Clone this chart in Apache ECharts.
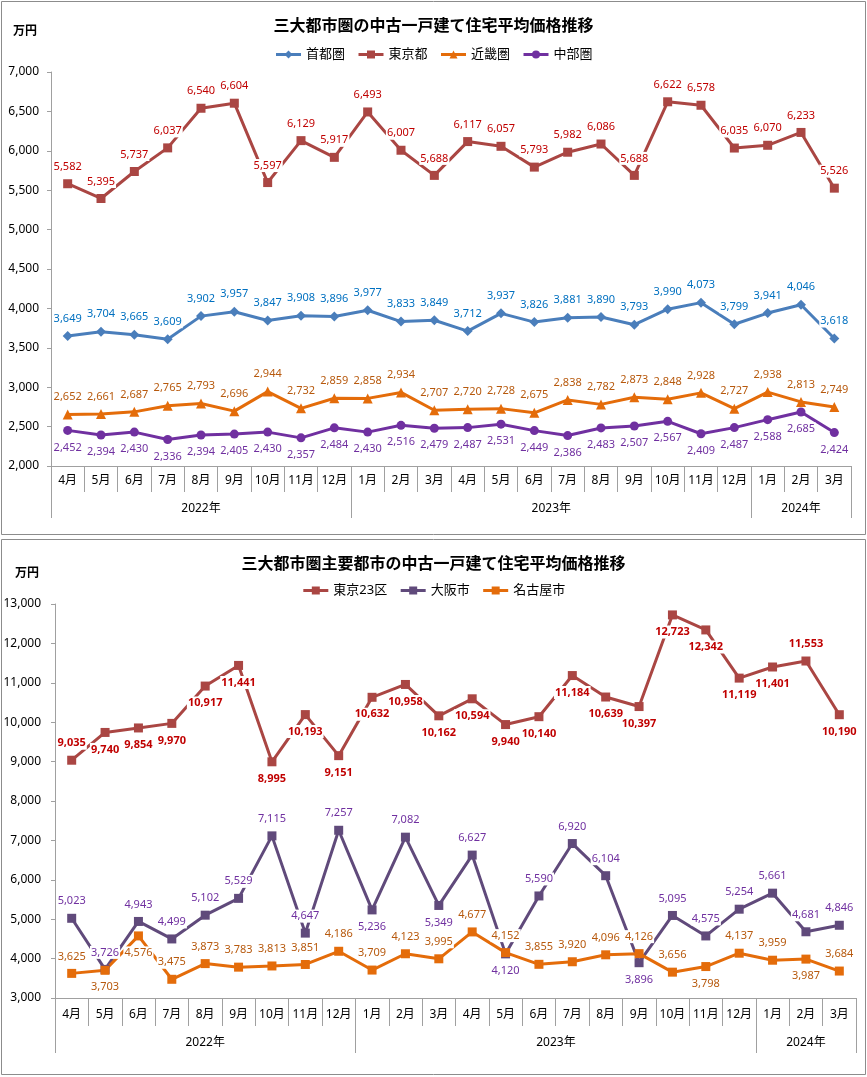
<!DOCTYPE html>
<html><head><meta charset="utf-8">
<script src="https://cdn.jsdelivr.net/npm/echarts@6/dist/echarts.min.js"></script>
<style>html,body{margin:0;padding:0;background:#fff}#c{width:867px;height:1077px}</style>
</head><body><div id="c"></div>
<script>
// ---------- data ----------
const months = ['4月','5月','6月','7月','8月','9月','10月','11月','12月',
  '1月','2月','3月','4月','5月','6月','7月','8月','9月','10月','11月','12月',
  '1月','2月','3月'];
const yearLabels = ['2022年','2023年','2024年'];
const yearSpans = [9, 12, 3];

const title1 = '三大都市圏の中古一戸建て住宅平均価格推移';
const title2 = '三大都市圏主要都市の中古一戸建て住宅平均価格推移';
const unitLabel = '万円';

const shutoken = [3649,3704,3665,3609,3902,3957,3847,3908,3896,3977,3833,3849,3712,3937,3826,3881,3890,3793,3990,4073,3799,3941,4046,3618];
const tokyoto  = [5582,5395,5737,6037,6540,6604,5597,6129,5917,6493,6007,5688,6117,6057,5793,5982,6086,5688,6622,6578,6035,6070,6233,5526];
const kinki    = [2652,2661,2687,2765,2793,2696,2944,2732,2859,2858,2934,2707,2720,2728,2675,2838,2782,2873,2848,2928,2727,2938,2813,2749];
const chubu    = [2452,2394,2430,2336,2394,2405,2430,2357,2484,2430,2516,2479,2487,2531,2449,2386,2483,2507,2567,2409,2487,2588,2685,2424];

const tokyo23  = [9035,9740,9854,9970,10917,11441,8995,10193,9151,10632,10958,10162,10594,9940,10140,11184,10639,10397,12723,12342,11119,11401,11553,10190];
const osaka    = [5023,3726,4943,4499,5102,5529,7115,4647,7257,5236,7082,5349,6627,4120,5590,6920,6104,3896,5095,4575,5254,5661,4681,4846];
const nagoya   = [3625,3703,4576,3475,3873,3783,3813,3851,4186,3709,4123,3995,4677,4152,3855,3920,4096,4126,3656,3798,4137,3959,3987,3684];

// ---------- styling / layout ----------
const FONT = "'Noto Sans','Noto Sans CJK JP',sans-serif";
const fmt = v => Number(v).toLocaleString('en-US');

// label placement (which points have their label on the other side)
const tokyo23Above = [0, 22];
const osakaBelow = [9, 11, 13, 17];
const nagoyaBelow = [1, 2, 19, 22];

const yearStarts = [];
(function(){ let s = 0; yearSpans.forEach(n => { yearStarts.push(s); s += n; }); })();
const yearCenters = yearSpans.map((n, k) => yearStarts[k] + (n - 1) / 2);
const yearLabelIdx = yearCenters.map(c => Math.floor(c));

function yearAxis(gridIndex, tickLen, margin) {
  return {
    type: 'category', gridIndex, position: 'bottom', data: months,
    axisLine: { show: false },
    axisTick: { show: true, length: tickLen, interval: i => yearStarts.includes(i),
      lineStyle: { color: '#a0a0a0', width: 1 } },
    axisLabel: {
      interval: i => yearLabelIdx.includes(i), margin, color: '#000', fontSize: 12, fontFamily: FONT,
      formatter: (v, i) => {
        const k = yearLabelIdx.indexOf(i);
        if (k < 0) return '';
        return (yearCenters[k] !== yearLabelIdx[k]) ? '{s|' + yearLabels[k] + '}' : yearLabels[k];
      },
      rich: { s: { padding: [0, 0, 0, 34], fontSize: 12, fontFamily: FONT, color: '#000' } }
    },
    splitLine: { show: false }
  };
}
function monthAxis(gridIndex, tickLen, margin) {
  return {
    type: 'category', gridIndex, position: 'bottom', data: months,
    axisLine: { show: true, lineStyle: { color: '#a0a0a0', width: 1 } },
    axisTick: { show: true, length: tickLen, lineStyle: { color: '#a0a0a0', width: 1 } },
    axisLabel: { interval: 0, margin, color: '#000', fontSize: 12, fontFamily: FONT },
    splitLine: { show: false }
  };
}
function valueAxis(gridIndex, min, max, interval, margin) {
  return {
    type: 'value', gridIndex, min, max, interval,
    axisLine: { show: true, lineStyle: { color: '#a0a0a0', width: 1 } },
    axisTick: { show: true, length: 4, lineStyle: { color: '#a0a0a0' } },
    splitLine: { show: false },
    axisLabel: { margin, color: '#000', fontSize: 12, fontFamily: FONT, formatter: fmt }
  };
}
function series(name, values, opt) {
  const flip = opt.flip || [];
  const base = opt.pos;
  const other = base === 'top' ? 'bottom' : 'top';
  return {
    name, type: 'line', xAxisIndex: opt.axis, yAxisIndex: opt.yAxis,
    data: values.map((v, i) => flip.includes(i) ? { value: v, label: { position: other } } : v),
    symbol: opt.symbol, symbolSize: opt.size, showAllSymbol: true,
    lineStyle: { color: opt.color, width: 3 },
    itemStyle: { color: opt.color },
    label: {
      show: true, position: base, distance: 6, formatter: p => fmt(p.value),
      color: opt.labelColor, fontSize: 11, fontFamily: FONT, fontWeight: opt.bold ? 'bold' : 'normal',
      backgroundColor: '#fff', padding: [1, 1]
    },
    emphasis: { disabled: true },
    animation: false
  };
}

const legendText = { fontSize: 13, fontFamily: FONT, color: '#000' };
const chart = echarts.init(document.getElementById('c'), null, { renderer: 'canvas' });
chart.setOption({
  backgroundColor: '#fff',
  animation: false,
  title: [
    { text: title1, left: 'center', top: 12, textStyle: { fontSize: 16, fontWeight: 'bold', fontFamily: "'Noto Sans CJK JP',sans-serif", color: '#000' } },
    { text: unitLabel, left: 8, top: 19, textStyle: { fontSize: 12, fontWeight: 'bold', fontFamily: "'Noto Sans CJK JP',sans-serif", color: '#000' } },
    { text: title2, left: 'center', top: 550, textStyle: { fontSize: 16, fontWeight: 'bold', fontFamily: "'Noto Sans CJK JP',sans-serif", color: '#000' } },
    { text: unitLabel, left: 10, top: 561, textStyle: { fontSize: 12, fontWeight: 'bold', fontFamily: "'Noto Sans CJK JP',sans-serif", color: '#000' } }
  ],
  legend: [
    { data: ['首都圏','東京都','近畿圏','中部圏'], left: 'center', top: 43, itemWidth: 25, itemHeight: 10, itemGap: 12,
      lineStyle: { width: 3 }, textStyle: legendText },
    { data: ['東京23区','大阪市','名古屋市'], left: 'center', top: 579, itemWidth: 25, itemHeight: 10, itemGap: 12,
      lineStyle: { width: 3 }, textStyle: legendText }
  ],
  grid: [
    { left: 51, top: 72, width: 800, height: 394, containLabel: false },
    { left: 55, top: 604, width: 801, height: 394, containLabel: false }
  ],
  xAxis: [
    monthAxis(0, 26, 9), yearAxis(0, 52, 37),
    monthAxis(1, 28, 11), yearAxis(1, 55, 39)
  ],
  yAxis: [
    valueAxis(0, 2000, 7000, 500, 12),
    valueAxis(1, 3000, 13000, 1000, 14)
  ],
  series: [
    series('首都圏', shutoken, { axis: 0, yAxis: 0, pos: 'top', symbol: 'diamond', size: 10, color: '#4A7EBB', labelColor: '#0070C0' }),
    series('東京都', tokyoto, { axis: 0, yAxis: 0, pos: 'top', symbol: 'rect', size: 9, color: '#AA4643', labelColor: '#C00000' }),
    series('近畿圏', kinki, { axis: 0, yAxis: 0, pos: 'top', symbol: 'triangle', size: 10, color: '#E46C0A', labelColor: '#B7590D' }),
    series('中部圏', chubu, { axis: 0, yAxis: 0, pos: 'bottom', symbol: 'circle', size: 9, color: '#7030A0', labelColor: '#7030A0' }),
    series('東京23区', tokyo23, { axis: 2, yAxis: 1, pos: 'bottom', flip: tokyo23Above, symbol: 'rect', size: 9, color: '#AA4643', labelColor: '#C00000', bold: true }),
    series('大阪市', osaka, { axis: 2, yAxis: 1, pos: 'top', flip: osakaBelow, symbol: 'rect', size: 9, color: '#604A7B', labelColor: '#7030A0' }),
    series('名古屋市', nagoya, { axis: 2, yAxis: 1, pos: 'top', flip: nagoyaBelow, symbol: 'rect', size: 9, color: '#E46C0A', labelColor: '#B7590D' })
  ],
  graphic: [
    { type: 'rect', silent: true, z: -1, shape: { x: 1.5, y: 1.5, width: 864, height: 533 }, style: { fill: null, stroke: '#8c8c8c', lineWidth: 1 } },
    { type: 'rect', silent: true, z: -1, shape: { x: 1.5, y: 539.5, width: 864, height: 535 }, style: { fill: null, stroke: '#8c8c8c', lineWidth: 1 } }
  ]
});
</script>
</body></html>
